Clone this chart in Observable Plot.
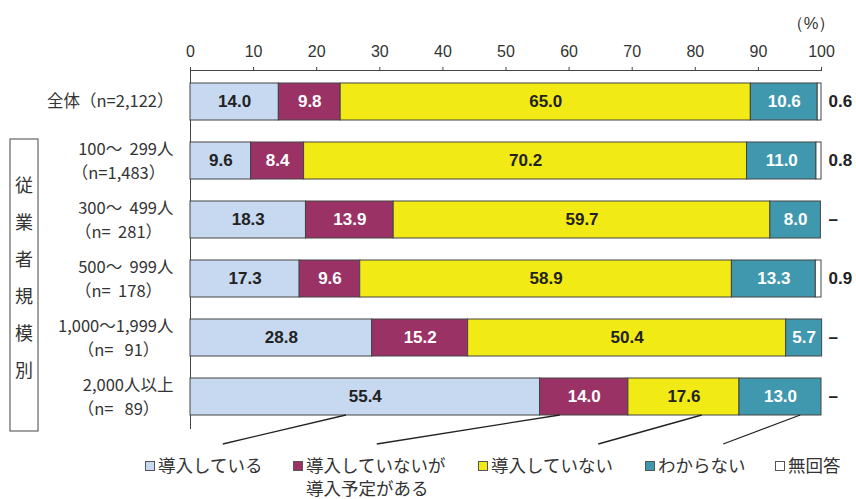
<!DOCTYPE html>
<html>
<head>
<meta charset="utf-8">
<script src="https://cdn.jsdelivr.net/npm/d3@7"></script>
<script src="https://cdn.jsdelivr.net/npm/@observablehq/plot@0.6"></script>
<style>
  body { margin: 0; background: #fff; }
  #wrap { position: relative; width: 856px; height: 499px; overflow: hidden; }
  svg text { white-space: pre; }
  #legend { position: absolute; top: 453px; left: 0; width: 856px; height: 46px;
            font-family: "Noto Sans CJK JP", sans-serif; font-size: 17.5px; color: #333; }
  .item { position: absolute; display: flex; align-items: flex-start; line-height: 23px; }
  .sw { width: 8px; height: 8px; border: 1px solid #555; margin-top: 8px; margin-right: 3px; }
</style>
</head>
<body>
<div id="wrap"></div>
<script>
// ---- data ----
const rows = ["全体", "100～299", "300～499", "500～999", "1000～1999", "2000以上"];
const rowLine1 = ["全体（n=2,122）", "100～  299人", "300～  499人", "500～  999人", "1,000～1,999人", "2,000人以上"];
const rowLine2 = ["", "（n=1,483）", "（n=  281）", "（n=  178）", "（n=   91）", "（n=   89）"];

const catNames = ["導入している", "導入していないが導入予定がある", "導入していない", "わからない", "無回答"];
const catColors = ["#c6d9f0", "#9b3265", "#f2ea14", "#3f98ae", "#ffffff"];
const legendLabels = ["導入している", "導入していないが\n導入予定がある", "導入していない", "わからない", "無回答"];
const legendLeft = [145, 293, 478, 645, 775];

const introduced    = [14.0, 9.6, 18.3, 17.3, 28.8, 55.4];
const planned       = [9.8, 8.4, 13.9, 9.6, 15.2, 14.0];
const notIntroduced = [65.0, 70.2, 59.7, 58.9, 50.4, 17.6];
const unknown       = [10.6, 11.0, 8.0, 13.3, 5.7, 13.0];
const noAnswer      = [0.6, 0.8, null, 0.9, null, null];

const xTicks = [0, 10, 20, 30, 40, 50, 60, 70, 80, 90, 100];

// leader lines from the last bar to the legend (percent units)
const leaderFrom = [24.7, 58.6, 81.1, 96.7];
const leaderTo   = [5.2, 29.6, 64.7, 84.5];

const sideTitle = "従業者規模別";

// ---- table ----
const series = [introduced, planned, notIntroduced, unknown, noAnswer];
const table = [];
rows.forEach((r, i) => series.forEach((s, k) => {
  if (s[i] != null) table.push({row: r, cat: catNames[k], value: s[i], k});
}));
const rowTable = rows.map((r, i) => ({row: r, l1: rowLine1[i], l2: rowLine2[i],
  na: noAnswer[i] == null ? "–" : noAnswer[i].toFixed(1)}));

const narrow = '"Liberation Sans Narrow", "Arial Narrow", "Liberation Sans", sans-serif';
const jp = '"Noto Sans CJK JP", sans-serif';

const stackOpts = {x: "value", y: "row", z: "cat", order: catNames};
const darkK = [0, 2], lightK = [1, 3];

const chart = Plot.plot({
  width: 856, height: 450,
  marginTop: 70, marginBottom: 22, marginLeft: 190, marginRight: 35,
  style: {fontFamily: jp, background: "white", color: "#333"},
  x: {domain: [0, 100], axis: null, label: null},
  y: {domain: rows, paddingInner: 0.375, paddingOuter: 0.21, axis: null},
  color: {domain: catNames, range: catColors},
  marks: [
    Plot.axisX({anchor: "top", ticks: xTicks, tickSize: 4, tickPadding: 10, label: null,
      fontSize: 16, fontFamily: narrow, stroke: "#444", fill: "#333", tickFormat: d => String(d)}),
    Plot.frame({anchor: "top", stroke: "#444"}),
    Plot.frame({anchor: "left", stroke: "#444"}),
    Plot.barX(table, Plot.stackX({...stackOpts, fill: "cat", stroke: "#444", strokeWidth: 1})),
    Plot.text(table, Plot.stackX({...stackOpts,
      text: d => darkK.includes(d.k) ? d.value.toFixed(1) : null,
      fill: "#222", fontWeight: "bold", fontSize: 17, fontFamily: narrow})),
    Plot.text(table, Plot.stackX({...stackOpts,
      text: d => lightK.includes(d.k) ? d.value.toFixed(1) : null,
      fill: "#fff", fontWeight: "bold", fontSize: 17, fontFamily: narrow})),
    Plot.text(rowTable, {y: "row", text: "na", frameAnchor: "right", textAnchor: "start", dx: 7,
      fill: "#222", fontWeight: "bold", fontSize: 17, fontFamily: narrow}),
    Plot.text(rowTable, {y: "row", text: d => d.l2 === "" ? d.l1 : null, frameAnchor: "left",
      textAnchor: "end", dx: -17, fontSize: 16.5, fill: "#333"}),
    Plot.text(rowTable, {y: "row", text: d => d.l2 !== "" ? d.l1 : null, frameAnchor: "left",
      textAnchor: "end", dx: -17, dy: -11, fontSize: 16.5, fill: "#333"}),
    Plot.text(rowTable, {y: "row", text: d => d.l2 !== "" ? d.l2 : null, frameAnchor: "left",
      textAnchor: "middle", dx: -72, dy: 13, fontSize: 16.5, fill: "#333"}),
    Plot.text(["（%）"], {frameAnchor: "top-right", dx: 14, dy: -53, fontSize: 16.5, fill: "#333",
      fontFamily: narrow})
  ]
});

// extra decorations drawn through the chart's own scales
const xs = chart.scale("x"), ys = chart.scale("y");
const svg = d3.select(chart);
const lastRow = rows[rows.length - 1];
const yBottom = ys.apply(lastRow) + ys.bandwidth;
svg.append("g").attr("stroke", "#222").attr("stroke-width", 1.3)
  .selectAll("line").data(leaderFrom).join("line")
  .attr("x1", d => xs.apply(d)).attr("y1", yBottom)
  .attr("x2", (d, i) => xs.apply(leaderTo[i])).attr("y2", yBottom + 29);

// side box with vertical title
const boxTop = ys.apply(rows[1]) - 3;
const boxBottom = yBottom + 16;
svg.append("rect").attr("x", 10).attr("y", boxTop).attr("width", 28)
  .attr("height", boxBottom - boxTop).attr("fill", "none").attr("stroke", "#444");
const midY = (ys.apply(rows[1]) + ys.apply(lastRow) + ys.bandwidth) / 2;
const chars = Array.from(sideTitle);
svg.append("g").attr("font-size", 18).attr("fill", "#333").attr("text-anchor", "middle")
  .attr("font-family", jp)
  .selectAll("text").data(chars).join("text")
  .attr("x", 24).attr("y", (d, i) => midY + (i - (chars.length - 1) / 2) * 37)
  .attr("dy", "0.35em").text(d => d);

const wrap = document.getElementById("wrap");
wrap.appendChild(chart);

// legend
const legend = document.createElement("div");
legend.id = "legend";
catNames.forEach((c, i) => {
  const it = document.createElement("div");
  it.className = "item";
  it.style.left = legendLeft[i] + "px";
  const sw = document.createElement("div");
  sw.className = "sw";
  sw.style.background = catColors[i];
  const tx = document.createElement("div");
  tx.style.whiteSpace = "pre";
  tx.textContent = legendLabels[i];
  it.appendChild(sw); it.appendChild(tx);
  legend.appendChild(it);
});
wrap.appendChild(legend);
</script>
</body>
</html>
